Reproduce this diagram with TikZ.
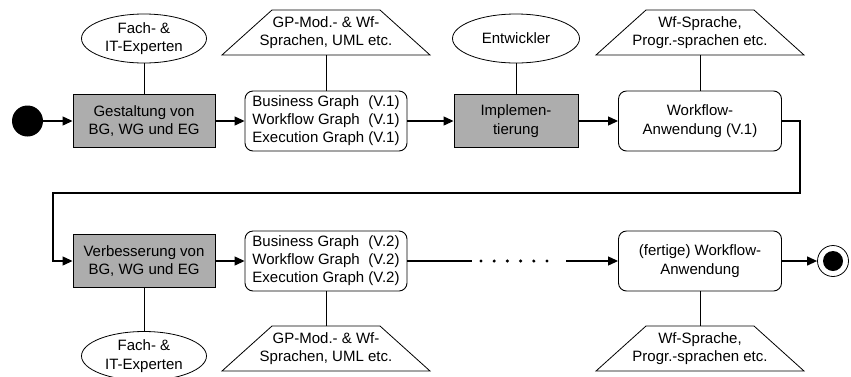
\documentclass[tikz,border=0pt]{standalone}
\usepackage{fontspec}
\setmainfont{Liberation Sans}
\usetikzlibrary{arrows.meta,shapes.geometric}
\definecolor{ActClr}{gray}{0.68}

\tikzset{
  act/.style={draw,fill=ActClr,line width=0.9pt,minimum width=142pt,minimum height=53pt,align=center,inner sep=0pt},
  res/.style={draw,rounded corners=8pt,line width=0.9pt,minimum width=162pt,minimum height=60pt,align=center,inner sep=0pt},
  actor/.style={draw,ellipse,line width=0.8pt,minimum width=125pt,minimum height=49pt,align=center,inner sep=0pt},
  lang/.style={minimum width=208pt,minimum height=45pt,align=center,inner sep=0pt},
  flow/.style={line width=1.2pt,-{Triangle[length=10pt,width=9pt]}},
  link/.style={line width=0.8pt},
}
\newcommand{\graphlist}[1]{\begin{tabular}{@{}l@{\ }l@{}}Business Graph & (V.#1)\\Workflow Graph & (V.#1)\\Execution Graph & (V.#1)\end{tabular}}
% trapezoid round a lang node
\newcommand{\langframe}[1]{\draw[link] ([shift={(-104,22.5)}]#1.center) -- ++(50,-45) -- ++(108,0) -- ++(50,45) -- cycle;}

\begin{document}
\begin{tikzpicture}[x=1pt,y=-1pt,font=\fontsize{15}{18.3}\selectfont]
\useasboundingbox (0,0) rectangle (851,376);

% first cycle
\node[circle,fill=black,minimum size=31pt,inner sep=0pt] (start) at (27.5,121) {};
\node[act] (gestalt) at (144,121) {Gestaltung von\\BG, WG und EG};
\node[res] (graphsA) at (326,121) {\graphlist{1}};
\node[act,minimum width=124pt] (impl) at (516,121) {Implemen-\\tierung};
\node[res,minimum width=163pt] (wfA) at (700,121) {Workflow-\\Anwendung (V.1)};

\node[actor] (expA) at (144,38.5) {Fach- \&\\IT-Experten};
\node[lang] (langA) at (326,32.5) {GP-Mod.- \& Wf-\\Sprachen, UML etc.};
\node[actor,minimum width=127pt] (devA) at (516,38.5) {Entwickler};
\node[lang] (toolA) at (700,32.5) {Wf-Sprache,\\Progr.-sprachen etc.};

% second cycle
\node[act] (verb) at (144,261) {Verbesserung von\\BG, WG und EG};
\node[res] (graphsB) at (326,261) {\graphlist{2}};
\node[res,minimum width=163pt] (fertig) at (700,261) {(fertige) Workflow-\\Anwendung};
\node[circle,draw,line width=0.8pt,minimum size=31pt,inner sep=0pt] (stop) at (833,261) {};
\node[circle,fill=black,minimum size=20pt,inner sep=0pt] (stopdot) at (stop) {};

\node[actor] (expB) at (144,356) {Fach- \&\\IT-Experten};
\node[lang] (langB) at (326,348.5) {GP-Mod.- \& Wf-\\Sprachen, UML etc.};
\node[lang] (toolB) at (700,348.5) {Wf-Sprache,\\Progr.-sprachen etc.};

\langframe{langA}
\langframe{toolA}
\langframe{langB}
\langframe{toolB}

\coordinate (turnA) at (800,193);
\coordinate (turnB) at (53,193);
\coordinate (gapL) at (472,261);
\coordinate (gapR) at (566,261);

\draw[flow] (start) -- (gestalt);
\draw[flow] (gestalt) -- (graphsA);
\draw[flow] (graphsA) -- (impl);
\draw[flow] (impl) -- (wfA);
\draw[flow] (wfA.east) -| (turnA) -- (turnB) |- (verb.west);
\draw[flow] (verb) -- (graphsB);
\draw[line width=1.2pt] (graphsB) -- (gapL);
\foreach \i in {0,...,5}
  \fill (481+13.2*\i,261) circle (1.7pt);
\draw[flow] (gapR) -- (fertig);
\draw[flow] (fertig) -- (stop);

\draw[link] (expA) -- (gestalt);
\draw[link] (langA) -- (graphsA);
\draw[link] (devA) -- (impl);
\draw[link] (toolA) -- (wfA);
\draw[link] (verb) -- (expB);
\draw[link] (graphsB) -- (langB);
\draw[link] (fertig) -- (toolB);

\end{tikzpicture}
\end{document}
